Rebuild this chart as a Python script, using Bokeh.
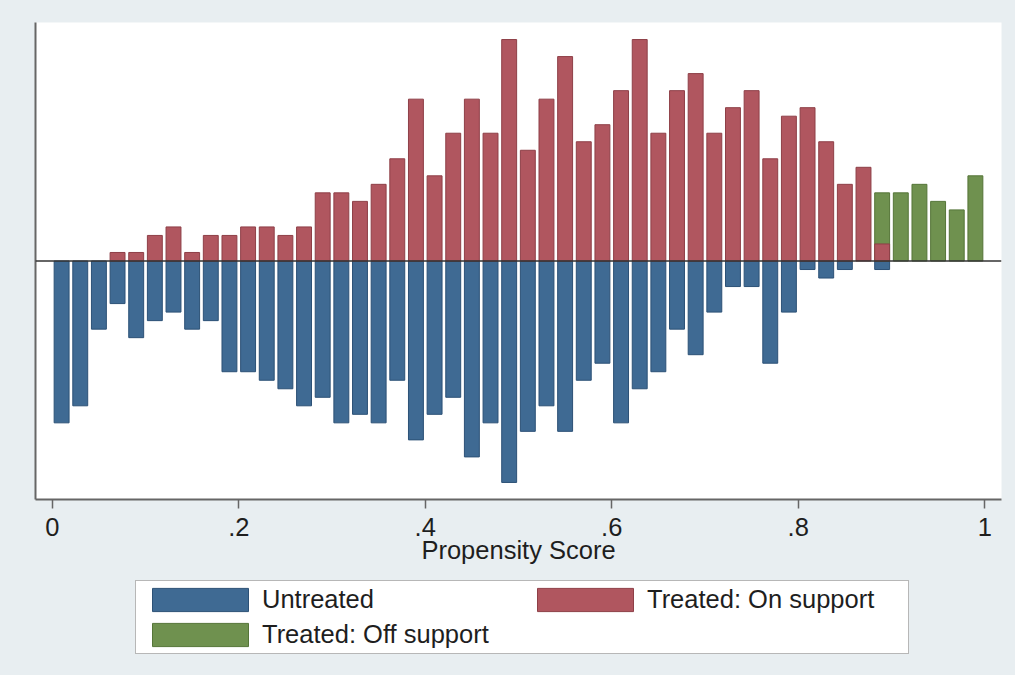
from bokeh.plotting import figure
from bokeh.layouts import column
from bokeh.models import Range1d, Span, Legend, LegendItem, FixedTicker, ColumnDataSource
from bokeh.embed import file_html
from bokeh.resources import INLINE

# ---- data (counts per propensity-score bin of width 0.02) ----
bin_centers = [round(0.01 + 0.02 * i, 2) for i in range(50)]
untreated = [19, 17, 8, 5, 9, 7, 6, 8, 7, 13,
             13, 14, 15, 17, 16, 19, 18, 19, 14, 21,
             18, 16, 23, 19, 26, 20, 17, 20, 14, 12,
             19, 15, 13, 8, 11, 6, 3, 3, 12, 6,
             1, 2, 1, 0, 1, 0, 0, 0, 0, 0]
treated_on = [0, 0, 0, 1, 1, 3, 4, 1, 3, 3,
              4, 4, 3, 4, 8, 8, 7, 9, 12, 19,
              10, 15, 19, 15, 26, 13, 19, 24, 14, 16,
              20, 26, 15, 20, 22, 15, 18, 20, 12, 17,
              18, 14, 9, 11, 2, 0, 0, 0, 0, 0]
treated_off = [0] * 44 + [8, 8, 9, 7, 6, 10]

tick_values = [0, 0.2, 0.4, 0.6, 0.8, 1.0]
tick_labels = ["0", ".2", ".4", ".6", ".8", "1"]
x_label = "Propensity Score"
legend_labels = ["Untreated", "Treated: On support", "Treated: Off support"]

BLUE, BLUE_LINE = "#3f6a93", "#2c5176"
RED, RED_LINE = "#b0565f", "#8e3f47"
GREEN, GREEN_LINE = "#6f914f", "#557538"
BG = "#e8eef1"
FONT = "Liberation Sans"
FS = "25.5px"
TXT = "#1e1e1e"
AX = "#666666"
W = 1015


def src(vals, sign):
    xs = [c for c, v in zip(bin_centers, vals) if v > 0]
    ts = [sign * v for v in vals if v > 0]
    return ColumnDataSource(dict(x=xs, top=ts))


p = figure(width=W, height=575,
           x_range=Range1d(-0.018, 1.018), y_range=Range1d(-28, 28),
           output_backend="svg", toolbar_location=None,
           min_border_left=35, min_border_right=14,
           min_border_top=22, min_border_bottom=76)

p.background_fill_color = "white"
p.border_fill_color = BG
p.outline_line_color = None
p.xgrid.visible = False
p.ygrid.visible = False

bw = 0.016
styles = dict(
    u=dict(fill_color=BLUE, line_color=BLUE_LINE, line_width=1),
    on=dict(fill_color=RED, line_color=RED_LINE, line_width=1),
    off=dict(fill_color=GREEN, line_color=GREEN_LINE, line_width=1),
)
p.vbar(x="x", top="top", bottom=0, width=bw, source=src(untreated, -1), **styles["u"])
p.vbar(x="x", top="top", bottom=0, width=bw, source=src(treated_off, 1), **styles["off"])
p.vbar(x="x", top="top", bottom=0, width=bw, source=src(treated_on, 1), **styles["on"])

p.add_layout(Span(location=0, dimension="width", line_color="#333333", line_width=1.5))

# x axis
xa = p.xaxis[0]
xa.ticker = FixedTicker(ticks=tick_values)
xa.major_label_overrides = {v: l for v, l in zip(tick_values, tick_labels)}
xa.minor_tick_line_color = None
xa.major_tick_out = 9
xa.major_tick_in = 0
xa.major_label_standoff = 9
xa.major_label_text_font = FONT
xa.major_label_text_font_size = FS
xa.major_label_text_color = TXT
xa.axis_label = x_label
xa.axis_label_text_font = FONT
xa.axis_label_text_font_size = FS
xa.axis_label_text_font_style = "normal"
xa.axis_label_text_color = TXT
xa.axis_label_standoff = -3
xa.axis_line_color = AX
xa.axis_line_width = 2
xa.major_tick_line_color = AX
xa.major_tick_line_width = 1.5

# y axis: line only
ya = p.yaxis[0]
ya.ticker = FixedTicker(ticks=[])
ya.minor_tick_line_color = None
ya.major_tick_line_color = None
ya.major_label_text_font_size = "0px"
ya.axis_line_color = AX
ya.axis_line_width = 2

# ---- legend strip below the chart (its frame is aligned with the chart's) ----
p2 = figure(width=W, height=100, x_range=Range1d(0, 1), y_range=Range1d(0, 1),
            x_axis_location=None, y_axis_location=None, min_border=0,
            output_backend="svg", toolbar_location=None)
p2.background_fill_color = BG
p2.border_fill_color = BG
p2.outline_line_color = None
p2.grid.visible = False
# hidden key renderers that only carry the swatch styles for the legend
lr_u = p2.vbar(x=[0.5], top=[0.5], width=0.1, visible=False, **styles["u"])
lr_on = p2.vbar(x=[0.5], top=[0.5], width=0.1, visible=False, **styles["on"])
lr_off = p2.vbar(x=[0.5], top=[0.5], width=0.1, visible=False, **styles["off"])

legend = Legend(items=[LegendItem(label=legend_labels[0], renderers=[lr_u]),
                       LegendItem(label=legend_labels[1], renderers=[lr_on]),
                       LegendItem(label=legend_labels[2], renderers=[lr_off])],
                orientation="horizontal", ncols=2, location=(100, 21),
                glyph_width=120, glyph_height=29, label_standoff=2,
                label_width=257, label_height=29, spacing=6, padding=4, margin=0,
                label_text_font=FONT, label_text_font_size=FS, label_text_color=TXT,
                border_line_color="#707070", border_line_width=1.5,
                background_fill_color="white", background_fill_alpha=1.0,
                inactive_fill_alpha=0.0)
p2.add_layout(legend, "center")

layout = column(p, p2, spacing=0, styles={"background-color": BG})
open("out.html", "w").write(file_html(layout, INLINE))
